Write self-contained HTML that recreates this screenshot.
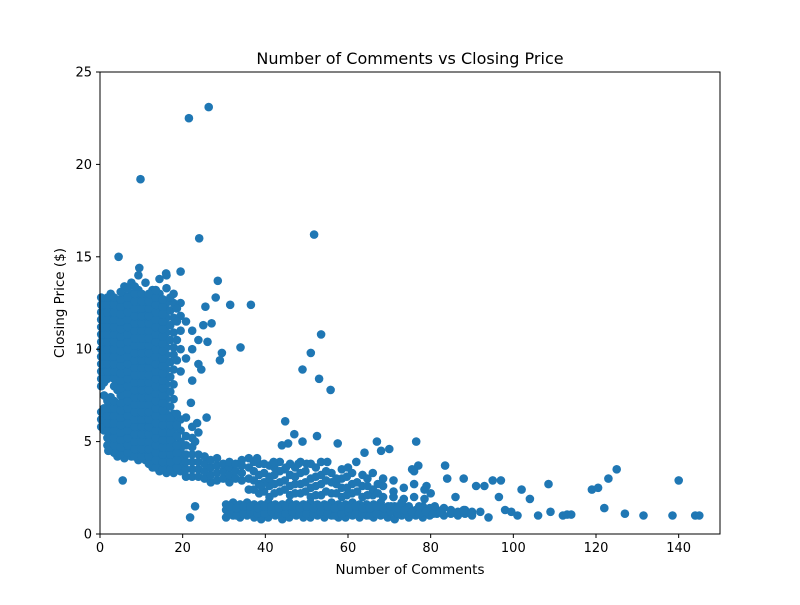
<!DOCTYPE html>
<html><head><meta charset="utf-8"><style>
html,body{margin:0;padding:0;background:#fff;}
svg text{font-family:"DejaVu Sans","Liberation Sans",sans-serif;fill:#000;}
</style></head><body>
<svg id="chart" width="800" height="600" viewBox="0 0 800 600" xmlns="http://www.w3.org/2000/svg">
<rect x="0" y="0" width="800" height="600" fill="#fff"/>
<text x="410" y="64" font-size="16" text-anchor="middle">Number of Comments vs Closing Price</text>
<g id="marks"></g>
<rect x="100" y="72" width="620" height="462" fill="none" stroke="#000" stroke-width="1"/>
<g id="axes"></g>
<text x="410" y="574" font-size="13.5" text-anchor="middle">Number of Comments</text>
<text transform="translate(64,303) rotate(-90)" font-size="13.5" text-anchor="middle">Closing Price ($)</text>
</svg>
<script>
const xTicks = [0,20,40,60,80,100,120,140];
const yTicks = [0,5,10,15,20,25];
// dense columns: comment count and prices stacked at that count
const columnComments = [1.0,2.6,4.2,5.9,7.6,9.3,11.0,12.7,14.4,16.1,17.8,19.5,
 20.8,22.3,23.8,25.3,26.8,28.3,29.8,31.3,32.8,34.3,
 36,38.5,41,43.5,46,48.5,51,53.5,56,58.5,61,63.5,66,68.5,71,73.5,76,78.5,
 30.5,32.2,33.9,35.6,37.3,39,40.7,42.4,44.1,45.8,47.5,49.2,50.9,52.6,54.3,56,57.7,59.4,61.1,62.8,64.5,66.2,67.9,69.6,71.3,73,74.7,76.4,78.1,79.8,81.5,83.2,84.9,86.6,88.3,90,
 0.3,1.8,3.4,5.0,6.7,8.4,10.1,11.8,13.5,15.2,17.0,18.6,
 37.2,39.7,42.2,44.7,47.2,49.7,52.2,54.7,57.2,59.7,62.2,64.7,67.2,69.7,72.2,74.7,77.2,
 31.4,33.0,34.7,36.4,38.1,39.8,41.5,43.2,44.9,46.6,48.3,50.0,51.7,53.4,55.1,56.8,58.5,60.2,61.9,63.6,65.3,67.0,68.7,70.4,72.1,73.8,75.5,77.2,78.9,80.6,82.3,84.0,85.7,87.4,89.1];
const columnPrices = [
 [5.6,6.0,6.4,6.8,7.5,8.2,8.6,9.0,9.4,9.8,10.2,10.6,11.0,11.4,11.8,12.2,12.6],
 [4.6,5.0,5.4,5.8,6.2,6.6,7.0,7.4,8.6,9.0,9.4,9.8,10.2,10.6,11.0,11.4,11.8,12.2,12.6,13.0],
 [4.2,4.6,5.0,5.4,5.8,6.2,6.6,7.0,7.8,8.2,8.6,9.0,9.4,9.8,10.2,10.6,11.0,11.4,11.8,12.2,12.6],
 [4.1,4.5,4.9,5.3,5.7,6.1,6.5,6.9,7.3,7.7,8.1,8.5,8.9,9.3,9.7,10.1,10.5,10.9,11.3,11.7,12.1,12.5,12.9,13.4],
 [4.2,4.6,5.0,5.4,5.8,6.2,6.6,7.0,7.4,7.8,8.2,8.6,9.0,9.4,9.8,10.2,10.6,11.0,11.4,11.8,12.2,12.6,13.0,13.6],
 [4.0,4.4,4.8,5.2,5.6,6.0,6.4,6.8,7.2,7.6,8.0,8.4,8.8,9.2,9.6,10.0,10.4,10.8,11.2,11.6,12.0,12.4,12.8,13.2,14.0],
 [4.0,4.4,4.8,5.2,5.6,6.0,6.4,6.8,7.2,7.6,8.0,8.4,8.8,9.2,9.6,10.0,10.4,10.8,11.2,11.6,12.0,12.4,12.8,13.6],
 [3.6,4.0,4.4,4.8,5.2,5.6,6.0,6.4,6.8,7.2,7.6,8.0,8.4,8.8,9.2,9.6,10.0,10.4,10.8,11.2,11.6,12.0,12.4,12.8,13.2],
 [3.4,3.8,4.2,4.6,5.0,5.4,5.8,6.2,6.6,7.0,7.4,7.8,8.2,8.6,9.0,9.4,9.8,10.2,10.6,11.0,11.4,11.8,12.2,12.6,13.0,13.8],
 [3.3,3.7,4.1,4.5,4.9,5.3,5.7,6.1,6.5,6.9,7.3,7.7,8.1,8.5,8.9,9.3,9.7,10.1,10.5,10.9,11.3,11.7,12.1,12.5,13.3,14.0],
 [3.3,3.7,4.1,4.5,4.9,5.3,5.7,6.1,6.5,7.3,8.1,8.9,9.7,10.1,10.9,11.7,12.5,13.0],
 [3.4,3.8,4.2,4.6,5.0,5.6,6.2,8.8,10.0,11.0,11.8,12.5],
 [3.1,3.5,3.9,4.3,4.8,5.3,6.3,9.5,11.5],
 [3.1,3.5,3.9,4.3,4.7,5.2,5.8,8.3,10.0,11.0],
 [3.1,3.5,3.9,4.3,5.5,9.2,10.5],
 [3.0,3.4,3.8,4.2],
 [2.8,3.2,3.6,4.0],
 [2.9,3.3,3.7,4.1],
 [3.0,3.4,3.8],
 [2.8,3.2,3.6,3.9],
 [3.0,3.4,3.8],
 [2.9,3.3,3.7,4.0],
 [2.4,3.0,3.6,4.1],
 [2.2,2.7,3.2,3.8],
 [2.0,2.6,3.1,3.7],
 [2.3,2.8,3.4,3.9],
 [2.1,2.6,3.2,3.8],
 [2.2,2.7,3.3,3.9],
 [2.0,2.5,3.0,3.8],
 [2.1,2.7,3.2,3.9],
 [2.2,2.8,3.3],
 [2.0,2.5,3.0,3.5],
 [2.2,2.7,3.3],
 [2.0,2.6,3.2],
 [2.1,2.4,3.3],
 [2.0,2.6,3.0],
 [2.0,2.3,2.9],
 [1.9,2.5],
 [2.0,2.7,3.4],
 [1.9,2.4],
 [0.9,1.3,1.6],[1.0,1.3,1.7],[0.9,1.2,1.6],[1.0,1.4,1.7],[0.9,1.3,1.6],[0.8,1.2,1.6],
 [0.9,1.3,1.7],[1.0,1.3,1.6],[0.8,1.2,1.6],[0.9,1.3,1.7],[1.0,1.4,1.6],[0.9,1.2,1.6],
 [0.9,1.3,1.7],[1.0,1.3,1.6],[0.9,1.2,1.6],[1.0,1.4,1.7],[0.9,1.3,1.6],[0.9,1.2,1.6],
 [1.0,1.3,1.7],[0.9,1.3,1.6],[1.0,1.2,1.6],[0.9,1.3,1.6],[1.0,1.4,1.7],[0.9,1.3],
 [0.8,1.2,1.5],[1.0,1.3,1.6],[0.9,1.2,1.5],[1.0,1.3],[0.9,1.2,1.5],[1.0,1.4],
 [1.1,1.3],[1.0,1.4],[1.1,1.3],[1.0,1.2],[1.1,1.3],[1.0,1.2],
 [5.8,6.2,6.6,8.0,8.4,8.8,9.2,9.6,10.0,10.4,10.8,11.2,11.6,12.0,12.4,12.8],
 [4.8,5.2,5.6,6.0,6.4,6.8,7.2,8.4,8.8,9.2,9.6,10.0,10.4,10.8,11.2,11.6,12.0,12.4,12.8],
 [4.4,4.8,5.2,5.6,6.0,6.4,6.8,7.2,8.0,8.4,8.8,9.2,9.6,10.0,10.4,10.8,11.2,11.6,12.0,12.4,12.8],
 [4.3,4.7,5.1,5.5,5.9,6.3,6.7,7.1,7.5,7.9,8.3,8.7,9.1,9.5,9.9,10.3,10.7,11.1,11.5,11.9,12.3,12.7,13.1],
 [4.4,4.8,5.2,5.6,6.0,6.4,6.8,7.2,7.6,8.0,8.4,8.8,9.2,9.6,10.0,10.4,10.8,11.2,11.6,12.0,12.4,12.8,13.3],
 [4.2,4.6,5.0,5.4,5.8,6.2,6.6,7.0,7.4,7.8,8.2,8.6,9.0,9.4,9.8,10.2,10.6,11.0,11.4,11.8,12.2,12.6,13.0,13.4],
 [4.2,4.6,5.0,5.4,5.8,6.2,6.6,7.0,7.4,7.8,8.2,8.6,9.0,9.4,9.8,10.2,10.6,11.0,11.4,11.8,12.2,12.6,13.0],
 [3.8,4.2,4.6,5.0,5.4,5.8,6.2,6.6,7.0,7.4,7.8,8.2,8.6,9.0,9.4,9.8,10.2,10.6,11.0,11.4,11.8,12.2,12.6,13.0],
 [3.6,4.0,4.4,4.8,5.2,5.6,6.0,6.4,6.8,7.2,7.6,8.0,8.4,8.8,9.2,9.6,10.0,10.4,10.8,11.2,11.6,12.0,12.4,12.8,13.2],
 [3.5,3.9,4.3,4.7,5.1,5.5,5.9,6.3,6.7,7.1,7.5,7.9,8.3,8.7,9.1,9.5,9.9,10.3,10.7,11.1,11.5,11.9,12.3,12.7],
 [3.5,3.9,4.3,4.7,5.1,5.5,5.9,6.3,6.9,7.7,8.5,9.3,10.5,11.3,12.1,12.8],
 [3.6,4.0,4.4,4.8,5.3,5.9,6.5,9.4,10.5,11.5,12.2],
 [2.4,2.9,3.4,3.9],[2.3,2.8,3.3,3.8],[2.2,2.7,3.2,3.6],[2.4,2.9,3.5],[2.2,2.7,3.1,3.6],
 [2.3,2.8,3.4],[2.1,2.6,3.1,3.6],[2.3,2.9,3.4],[2.2,2.7,3.0],[2.1,2.5,3.1],[2.3,2.8],
 [2.1,2.6,3.0],[2.2,2.7],
 [1.1,1.5],[1.1,1.5],[1.1,1.4],[1.2,1.5],[1.1,1.5],[1.0,1.4],[1.1,1.5],[1.2,1.5],
 [1.1,1.4],[1.1,1.5],[1.2,1.5],[1.1,1.4],[1.1,1.5],[1.2,1.5],[1.1,1.4],[1.1,1.5],
 [1.1,1.4],[1.2,1.5],[1.1,1.5],[1.0,1.4],[1.1,1.5],[1.2,1.4],[1.1,1.5],[1.1,1.4],
 [1.0,1.4],[1.1,1.5],[1.1,1.4],[1.2,1.5],[1.1,1.4],[1.1,1.3],[1.2],[1.1],[1.2],[1.1],[1.2]
];
const outlierComments = [21.5,26.3,9.8,24,51.8,4.5,9.5,16,19.5,28.5,28,25.5,31.5,36.5,27,25,53.5,34,29.5,26,29,51,49,53,55.8,24.5,22,23.5,25.8,44.8,23,45.5,52.5,57.5,67,76.5,68,70,64,75.5,77,83.5,60,62,21.8,23,5.5,2,80,84,88,86,91,93,95,97,96.5,98,99.5,101,102,104,106,108.5,109,112,113,114,119,120.5,122,123,125,127,131.5,138.5,140,144,145,45,48,42,38,55,50,47,49,44,41,39,71,73,79,81,88,90,92,94];
const outlierPrices = [22.5,23.1,19.2,16,16.2,15,14.4,14.1,14.2,13.7,12.8,12.3,12.4,12.4,11.4,11.3,10.8,10.1,9.8,10.4,9.4,9.8,8.9,8.4,7.8,8.9,7.1,6.0,6.3,6.1,5.0,4.9,5.3,4.9,5.0,5.0,4.5,4.6,4.4,3.5,3.7,3.7,3.6,3.9,0.9,1.5,2.9,4.5,2.2,3.0,3.0,2.0,2.6,2.6,2.9,2.9,2.0,1.3,1.2,1.0,2.4,1.9,1.0,2.7,1.2,1.0,1.05,1.05,2.4,2.5,1.4,3.0,3.5,1.1,1.0,1.0,2.9,1.0,1.0,3.6,3.8,3.9,4.1,3.9,3.8,5.4,5.0,4.8,3.0,2.6,2.0,1.7,2.6,1.5,1.3,1.1,1.2,0.9];

const X0=100,X1=720,Y0=534,Y1=72;
function sx(v){return X0+(v-0)/(150-0)*(X1-X0);}
function sy(v){return Y0-(v-0)/(25-0)*(Y0-Y1);}
const NS='http://www.w3.org/2000/svg';
const marks=document.getElementById('marks');
function dot(x,y){
  const c=document.createElementNS(NS,'circle');
  c.setAttribute('cx',sx(x).toFixed(1));
  c.setAttribute('cy',sy(y).toFixed(1));
  c.setAttribute('r','4.3');
  c.setAttribute('fill','#1f77b4');
  
  
  marks.appendChild(c);
}
columnComments.forEach((x,i)=>{(columnPrices[i]||[]).forEach(y=>dot(x,y));});
outlierComments.forEach((x,i)=>dot(x,outlierPrices[i]));

const axes=document.getElementById('axes');
xTicks.forEach(t=>{
  const l=document.createElementNS(NS,'line');
  l.setAttribute('x1',sx(t));l.setAttribute('x2',sx(t));
  l.setAttribute('y1',Y0);l.setAttribute('y2',Y0+4);
  l.setAttribute('stroke','#000');
  
  
  axes.appendChild(l);
  const tx=document.createElementNS(NS,'text');
  tx.setAttribute('x',sx(t));tx.setAttribute('y',Y0+18);
  tx.setAttribute('font-size','13');tx.setAttribute('text-anchor','middle');
  
  
  tx.textContent=t;axes.appendChild(tx);
});
yTicks.forEach(t=>{
  const l=document.createElementNS(NS,'line');
  l.setAttribute('x1',X0-4);l.setAttribute('x2',X0);
  l.setAttribute('y1',sy(t));l.setAttribute('y2',sy(t));
  l.setAttribute('stroke','#000');
  
  
  axes.appendChild(l);
  const tx=document.createElementNS(NS,'text');
  tx.setAttribute('x',X0-8);tx.setAttribute('y',sy(t)+4.5);
  tx.setAttribute('font-size','13');tx.setAttribute('text-anchor','end');
  
  
  tx.textContent=t;axes.appendChild(tx);
});
</script>
</body></html>
